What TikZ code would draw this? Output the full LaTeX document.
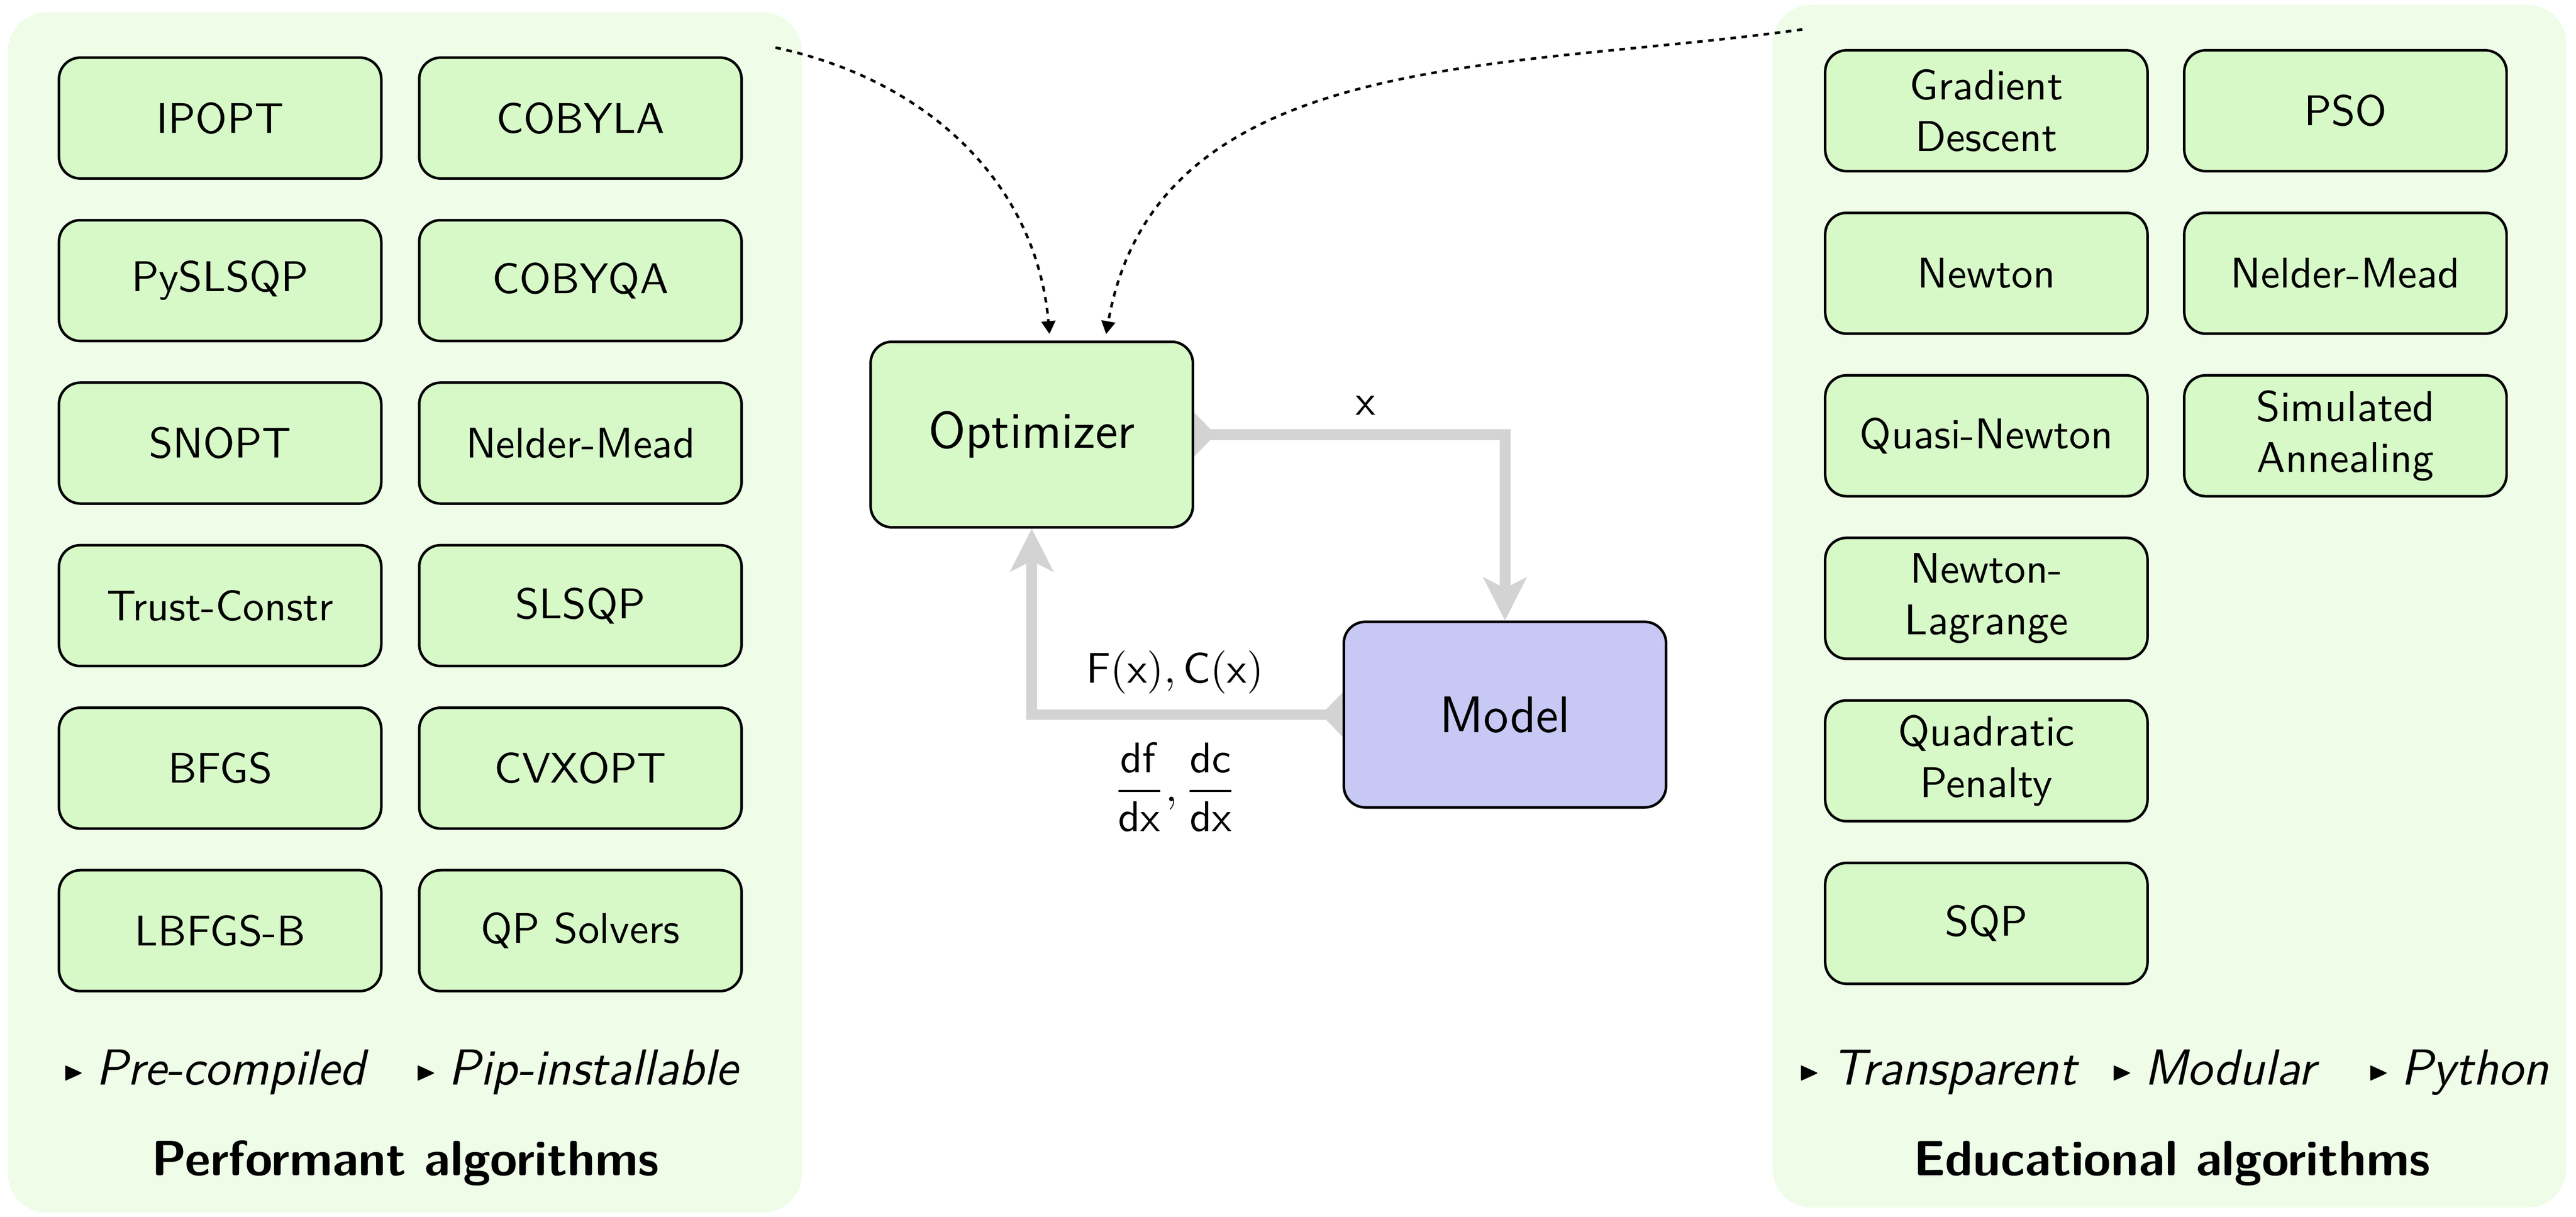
\documentclass[tikz,border=0pt]{standalone}
\usepackage{amsmath,amssymb}
\usepackage{xcolor}
\usetikzlibrary{positioning,backgrounds,arrows.meta}
\renewcommand{\familydefault}{\sfdefault}
\definecolor{algofill}{HTML}{D7F9C8}
\definecolor{panelfill}{HTML}{EEFCE8}
\definecolor{modelfill}{HTML}{C8C8F5}
\definecolor{flowgray}{HTML}{D3D3D3}
\newcommand{\tri}{{\tiny\raisebox{1.5pt}{$\blacktriangleright$}}\hspace{2.5pt}}

\begin{document}
\begin{tikzpicture}[
		algo/.style={draw, semithick, rounded corners=5pt, fill=algofill, minimum width=2.64cm, minimum height=0.99cm, align=center},
		block/.style={draw, semithick, rounded corners=5pt, minimum width=2.64cm, minimum height=1.52cm, font=\large},
		flow/.style={draw=flowgray, line width=2.5pt, {Triangle[reversed,length=5pt,width=10pt]}-{Stealth[length=10pt,width=10pt,inset=2.5pt]}},
		hint/.style={line width=0.6pt, dash pattern=on 1.3pt off 1.3pt, -{Triangle[length=3pt,width=3.2pt]}, shorten >=1.5pt},
		panel/.style={fill=panelfill, rounded corners=9pt},
		tag/.style={font=\fontsize{11.8}{14}\selectfont\itshape, anchor=base west, inner sep=0pt},
		title/.style={font=\fontsize{11.55}{14}\selectfont\bfseries}]
			\useasboundingbox (0,0) rectangle (21.1,9.967);

			% performant algorithms
			\node [algo] (ipopt) at (1.803,9.0) {IPOPT};
			\node [algo, right=0.29cm of ipopt] (cobyla) {COBYLA};
			\node [algo, below=0.32cm of ipopt] (pyslsqp) {PySLSQP};
			\node [algo, below=0.32cm of cobyla] (cobyqa) {COBYQA};
			\node [algo, below=0.32cm of pyslsqp] (snopt) {SNOPT};
			\node [algo, below=0.32cm of cobyqa] (neldermeadp) {Nelder-Mead};
			\node [algo, below=0.32cm of snopt] (trust) {Trust-Constr};
			\node [algo, below=0.32cm of neldermeadp] (slsqp) {SLSQP};
			\node [algo, below=0.32cm of trust] (bfgs) {BFGS};
			\node [algo, below=0.32cm of slsqp] (cvxopt) {CVXOPT};
			\node [algo, below=0.32cm of bfgs] (lbfgsb) {LBFGS-B};
			\node [algo, below=0.32cm of cvxopt] (qp) {QP Solvers};
			\node [tag] (precomp) at (0.5,1.08) {\tri Pre-compiled};
			\node [tag] (pip) at (3.39,1.08) {\tri Pip-installable};
			\node [title] (perftitle) at (3.32,0.44) {Performant algorithms};

			% educational algorithms
			\node [algo] (gd) at (16.27,9.06) {Gradient\\Descent};
			\node [algo, right=0.28cm of gd] (pso) {PSO};
			\node [algo, below=0.32cm of gd] (newton) {Newton};
			\node [algo, below=0.32cm of pso] (neldermeade) {Nelder-Mead};
			\node [algo, below=0.32cm of newton] (quasi) {Quasi-Newton};
			\node [algo, below=0.32cm of neldermeade] (anneal) {Simulated\\Annealing};
			\node [algo, below=0.32cm of quasi] (lagrange) {Newton-\\Lagrange};
			\node [algo, below=0.32cm of lagrange] (penalty) {Quadratic\\Penalty};
			\node [algo, below=0.32cm of penalty] (sqp) {SQP};
			\node [tag] (transp) at (14.72,1.08) {\tri Transparent};
			\node [tag] (modular) at (17.28,1.08) {\tri Modular};
			\node [tag] (python) at (19.38,1.08) {\tri Python};
			\node [title] (edutitle) at (17.79,0.44) {Educational algorithms};

			% optimization loop
			\node [block, fill=algofill] (opt) at (8.451,6.408) {Optimizer};
			\node [block, fill=modelfill] (model) at (12.327,4.114) {Model};

			\coordinate (perfout) at (6.352,9.577);
			\coordinate (eduout) at (14.763,9.726);

			\begin{scope}[on background layer]
				\fill [panel] (0.065,0.036) rectangle (6.567,9.865);
				\fill [panel] (14.52,0.077) rectangle (21.02,9.927);
				\draw [flow] (opt.east) -| node [above=0pt, pos=0.25, xshift=0.13cm] {$\mathsf{x}$} (model.north);
				\draw [flow] (model.west) -| node [above=0.3pt, pos=0.25, xshift=-0.1cm] {$\mathsf{F(x), C(x)}$}
					node [below=2pt, pos=0.25, xshift=-0.1cm] {$\dfrac{\mathsf{df}}{\mathsf{dx}}, \dfrac{\mathsf{dc}}{\mathsf{dx}}$} (opt.south);
				\draw [hint] (perfout) to [out=-12, in=95] ([xshift=0.15cm]opt.north);
				\draw [hint] (eduout) to [out=188, in=80] ([xshift=0.6cm]opt.north);
			\end{scope}
		\end{tikzpicture}
\end{document}
